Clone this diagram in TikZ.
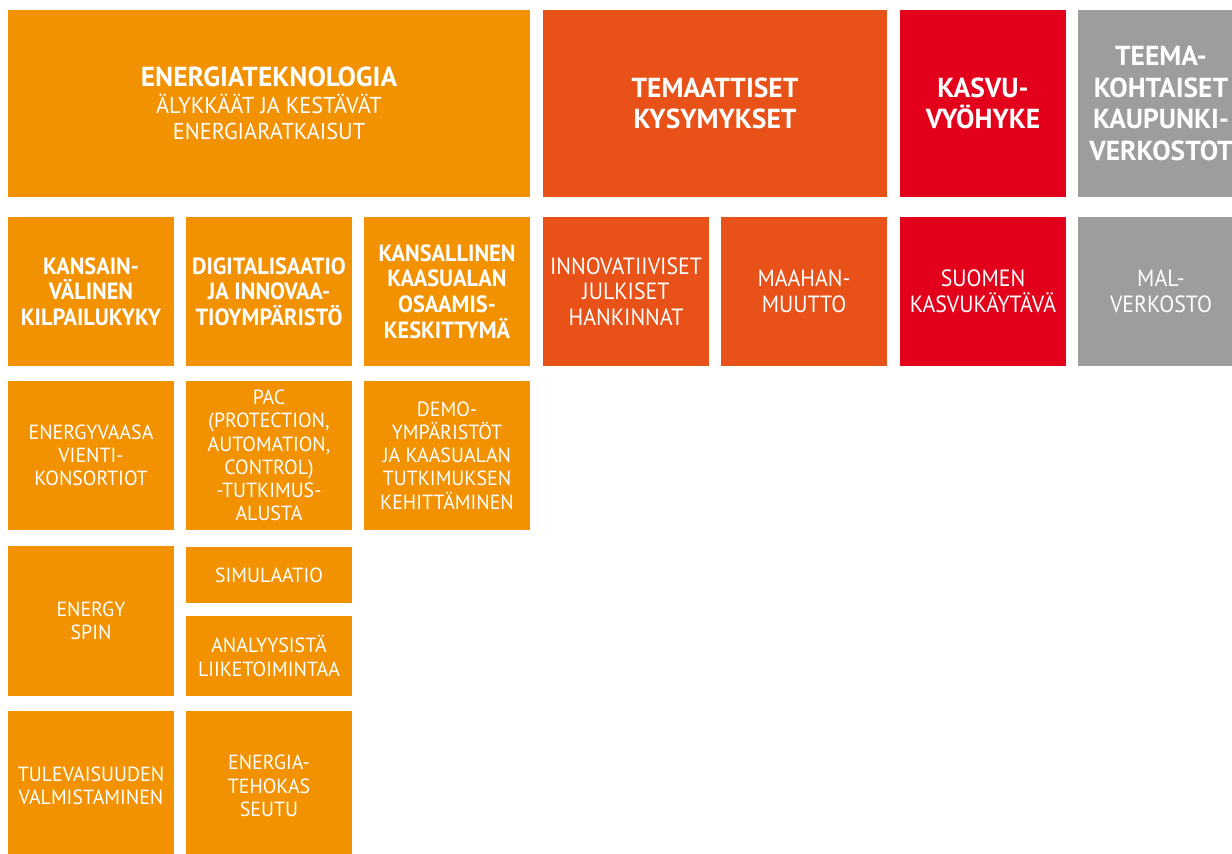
\documentclass[tikz,border=0pt]{standalone}
\usepackage{fontspec}
\newfontfamily\lt{PT Sans}[FakeStretch=0.97]
\newfontfamily\ltb{PT Sans}[FakeStretch=0.93]
\newfontfamily\bd{PT Sans}[FakeStretch=0.95]
\newfontfamily\bdt{PT Sans}[FakeStretch=1.0]
\definecolor{cOr}{HTML}{F39200}
\definecolor{cDo}{HTML}{E85117}
\definecolor{cRd}{HTML}{E2001A}
\definecolor{cGy}{HTML}{9D9D9C}
\tikzset{
  box/.style={fill=#1, inner sep=0pt, outer sep=0pt, text=white, align=center, anchor=center},
  ftop/.style={font=\bdt\bfseries\fontsize{27.5}{31.7}\selectfont},
  fsub/.style={font=\lt\fontsize{23}{26.3}\selectfont},
  frb/.style={font=\bd\bfseries\fontsize{23.5}{25.7}\selectfont},
  frl/.style={font=\ltb\fontsize{23.5}{25.6}\selectfont},
  fsm/.style={font=\lt\fontsize{20.5}{23.3}\selectfont},
}
\newcommand\bx[8]{\node[box=#2, minimum width={#5-#3}, minimum height={#6-#4}, #7] (#1) at ({(#3+#5)/2},{(#4+#6)/2}) {#8};}
\begin{document}
\begin{tikzpicture}[x=1pt,y=-1pt]
\useasboundingbox (0,0) rectangle (1232,854);
\clip (0,0) rectangle (1232,854);
% top row
\bx{energia}{cOr}{8}{10}{530}{197}{fsub}{{\bdt\bfseries\fontsize{27.5}{26.3}\selectfont ENERGIATEKNOLOGIA}\\ÄLYKKÄÄT JA KESTÄVÄT\\ENERGIARATKAISUT}
\bx{tema}{cDo}{543}{10}{887}{197}{ftop}{TEMAATTISET\\KYSYMYKSET}
\bx{kasvu}{cRd}{900}{10}{1066}{197}{ftop}{KASVU-\\VYÖHYKE}
\bx{teema}{cGy}{1078}{10}{1244}{197}{ftop}{TEEMA-\\KOHTAISET\\KAUPUNKI-\\VERKOSTOT}
% second row
\bx{kansain}{cOr}{8}{217}{174}{366}{frb}{KANSAIN-\\VÄLINEN\\KILPAILUKYKY}
\bx{digi}{cOr}{186}{217}{352}{366}{frb}{DIGITALISAATIO\\JA INNOVAA-\\TIOYMPÄRISTÖ}
\bx{kansal}{cOr}{364}{217}{530}{366}{frb}{KANSALLINEN\\KAASUALAN\\OSAAMIS-\\KESKITTYMÄ}
\bx{innov}{cDo}{543}{217}{709}{366}{frl}{INNOVATIIVISET\\JULKISET\\HANKINNAT}
\bx{maahan}{cDo}{721}{217}{887}{366}{frl}{MAAHAN-\\MUUTTO}
\bx{suomen}{cRd}{900}{217}{1066}{366}{frl}{SUOMEN\\KASVUKÄYTÄVÄ}
\bx{mal}{cGy}{1078}{217}{1244}{366}{frl}{MAL-\\VERKOSTO}
% third row
\bx{vaasa}{cOr}{8}{381}{174}{530}{fsm}{ENERGYVAASA\\VIENTI-\\KONSORTIOT}
\bx{pac}{cOr}{186}{381}{352}{530}{fsm}{PAC\\(PROTECTION,\\AUTOMATION,\\CONTROL)\\-TUTKIMUS-\\ALUSTA}
\bx{demo}{cOr}{364}{381}{530}{530}{fsm}{DEMO-\\YMPÄRISTÖT\\JA KAASUALAN\\TUTKIMUKSEN\\KEHITTÄMINEN}
% fourth row
\bx{spin}{cOr}{8}{546}{174}{696}{fsm}{ENERGY\\SPIN}
\bx{simu}{cOr}{186}{547}{352}{603}{fsm}{SIMULAATIO}
\bx{analyy}{cOr}{186}{616}{352}{696}{fsm}{ANALYYSISTÄ\\LIIKETOIMINTAA}
% fifth row
\bx{tulev}{cOr}{8}{711}{174}{861}{fsm}{TULEVAISUUDEN\\VALMISTAMINEN}
\bx{tehokas}{cOr}{186}{711}{352}{861}{fsm}{ENERGIA-\\TEHOKAS\\SEUTU}
\end{tikzpicture}
\end{document}
